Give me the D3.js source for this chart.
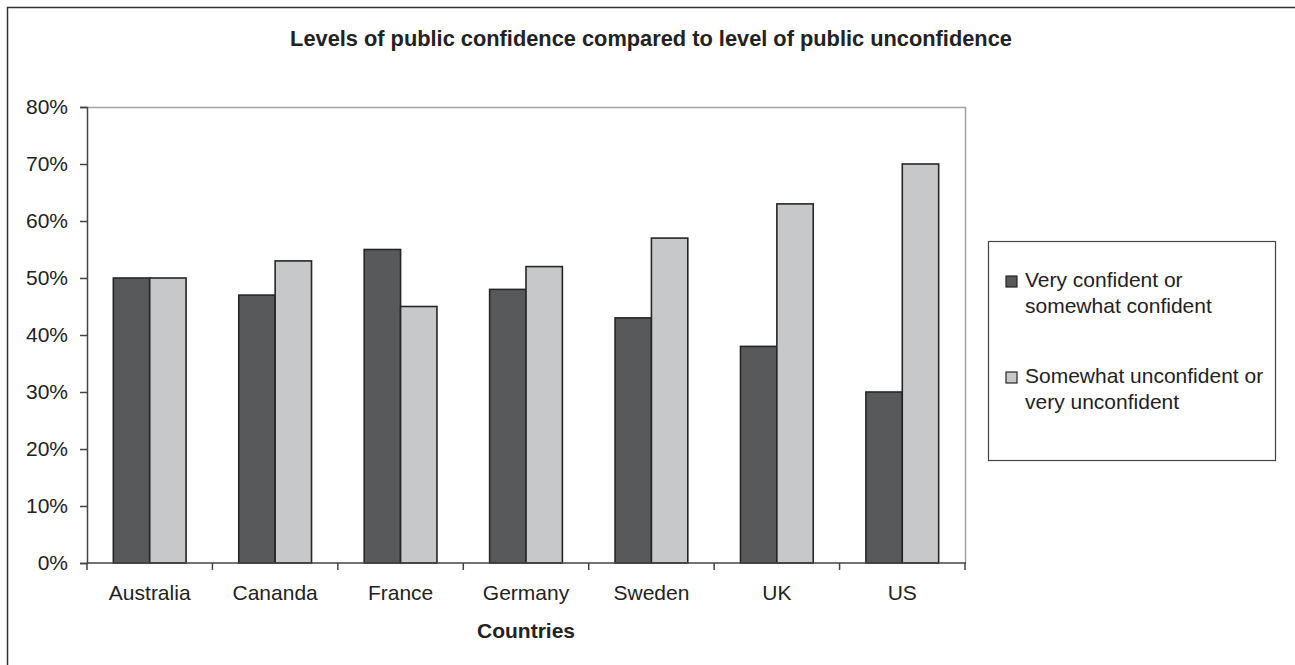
<!DOCTYPE html>
<html>
<head>
<meta charset="utf-8">
<script src="https://cdn.jsdelivr.net/npm/d3@7"></script>
<style>
  html, body { margin: 0; padding: 0; background: #fff; }
  svg { display: block; font-family: "Liberation Sans", Arial, sans-serif; }
</style>
</head>
<body>
<svg id="chart" width="1295" height="665"></svg>
<script>
// Survey results per country (percent of respondents)
const countries = ["Australia", "Cananda", "France", "Germany", "Sweden", "UK", "US"];
const confident = [50, 47, 55, 48, 43, 38, 30];
const unconfident = [50, 53, 45, 52, 57, 63, 70];
const seriesNames = ["Very confident or somewhat confident", "Somewhat unconfident or very unconfident"];
const legendLines = [["Very confident or", "somewhat confident"], ["Somewhat unconfident or", "very unconfident"]];
const yTicks = [0, 10, 20, 30, 40, 50, 60, 70, 80];

const colors = ["#58595b", "#c7c8ca"];
const textColor = "#222";

const svg = d3.select("#chart");

// outer frame
svg.append("rect")
  .attr("x", 7.5).attr("y", 7.5)
  .attr("width", 1400).attr("height", 800)
  .attr("fill", "none").attr("stroke", "#333").attr("stroke-width", 1.5);

const plot = { left: 87, right: 965, top: 107, bottom: 563 };

const x0 = d3.scaleBand().domain(countries).range([plot.left, plot.right]).paddingInner(0.42).paddingOuter(0.21);
const x1 = d3.scaleBand().domain([0, 1]).range([0, x0.bandwidth()]);
const y = d3.scaleLinear().domain([0, 80]).range([plot.bottom, plot.top]);

// plot area border (top and right in light gray)
svg.append("path")
  .attr("d", `M${plot.left},${plot.top + 0.5}H${plot.right + 0.5}V${plot.bottom}`)
  .attr("fill", "none").attr("stroke", "#a3a3a3").attr("stroke-width", 1.5);

// bars
const rows = countries.map((c, i) => ({ country: c, values: [confident[i], unconfident[i]] }));
const groups = svg.append("g").selectAll("g").data(rows).join("g")
  .attr("transform", d => `translate(${x0(d.country)},0)`);
groups.selectAll("rect").data(d => d.values.map((v, k) => ({ k, v }))).join("rect")
  .attr("x", d => x1(d.k))
  .attr("y", d => y(d.v))
  .attr("width", x1.bandwidth())
  .attr("height", d => y(0) - y(d.v))
  .attr("fill", d => colors[d.k])
  .attr("stroke", "#262626").attr("stroke-width", 1.6);

// y axis
const yAxis = d3.axisLeft(y).tickValues(yTicks).tickFormat(d => d + "%").tickSize(7).tickPadding(12);
const gy = svg.append("g").attr("transform", `translate(${plot.left},0)`).call(yAxis);
gy.select(".domain").attr("stroke", "#444").attr("stroke-width", 1.5);
gy.selectAll(".tick line").attr("stroke", "#444").attr("stroke-width", 1.5);
gy.selectAll(".tick text").attr("font-size", 21).attr("fill", textColor).attr("font-family", "Liberation Sans, Arial, sans-serif");

// x axis: ticks at category boundaries, labels centred in each band
const gx = svg.append("g").attr("transform", `translate(0,${plot.bottom})`);
gx.append("line").attr("x1", plot.left).attr("x2", plot.right + 1)
  .attr("stroke", "#444").attr("stroke-width", 1.5);
const step = (plot.right - plot.left) / countries.length;
const bounds = d3.range(countries.length + 1).map(i => plot.left + i * step);
gx.selectAll("line.tk").data(bounds).join("line").attr("class", "tk")
  .attr("x1", d => d).attr("x2", d => d).attr("y1", 0).attr("y2", 7)
  .attr("stroke", "#444").attr("stroke-width", 1.5);
gx.selectAll("text").data(countries).join("text")
  .attr("x", d => x0(d) + x0.bandwidth() / 2)
  .attr("y", 37)
  .attr("text-anchor", "middle")
  .attr("font-size", 21).attr("fill", textColor)
  .text(d => d);

// axis title
svg.append("text")
  .attr("x", (plot.left + plot.right) / 2).attr("y", 638)
  .attr("text-anchor", "middle").attr("font-size", 21).attr("font-weight", "bold").attr("fill", textColor)
  .text("Countries");

// chart title
svg.append("text")
  .attr("x", 651).attr("y", 46)
  .attr("text-anchor", "middle").attr("font-size", 21.8).attr("font-weight", "bold").attr("fill", textColor)
  .text("Levels of public confidence compared to level of public unconfidence");

// legend
const legend = svg.append("g");
legend.append("rect")
  .attr("x", 988.5).attr("y", 241.5).attr("width", 287).attr("height", 219)
  .attr("fill", "#fff").attr("stroke", "#444").attr("stroke-width", 1.2);
const entryTop = [287, 383];
const items = legend.selectAll("g.item").data(seriesNames).join("g").attr("class", "item");
items.append("rect")
  .attr("x", 1006).attr("y", (d, i) => entryTop[i] - 11)
  .attr("width", 11).attr("height", 11)
  .attr("fill", (d, i) => colors[i]).attr("stroke", "#262626").attr("stroke-width", 1.2);
items.append("text")
  .attr("font-size", 21).attr("fill", textColor)
  .selectAll("tspan").data((d, i) => legendLines[i].map((t, j) => ({ t, j, i }))).join("tspan")
  .attr("x", 1025)
  .attr("y", d => entryTop[d.i] + d.j * 26)
  .text(d => d.t);
</script>
</body>
</html>
